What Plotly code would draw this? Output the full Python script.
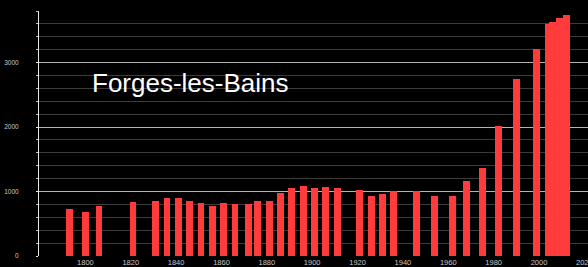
import plotly.graph_objects as go

years = [1793, 1800, 1806, 1821, 1831, 1836, 1841, 1846, 1851, 1856, 1861, 1866,
         1872, 1876, 1881, 1886, 1891, 1896, 1901, 1906, 1911, 1921, 1926, 1931,
         1936, 1946, 1954, 1962, 1968, 1975, 1982, 1990, 1999, 2004, 2006, 2009, 2012]
population = [734, 683, 777, 833, 859, 895, 906, 855, 829, 782, 829, 804,
              804, 855, 855, 975, 1053, 1093, 1053, 1073, 1058, 1026, 938, 959,
              1011, 1011, 933, 933, 1171, 1369, 2011, 2753, 3215, 3597, 3623, 3685, 3732]
title_text = "Forges-les-Bains"
x_ticks = [1800, 1820, 1840, 1860, 1880, 1900, 1920, 1940, 1960, 1980, 2000, 2020]
y_ticks = [0, 1000, 2000, 3000]

fig = go.Figure()
fig.add_trace(go.Bar(
    x=years, y=population, width=3,
    marker=dict(color="#ff3b3b", line=dict(width=0)),
    hoverinfo="x+y",
))

fig.update_layout(
    width=588, height=267,
    margin=dict(l=39, r=0, t=11, b=11, pad=0, autoexpand=False),
    paper_bgcolor="black", plot_bgcolor="black",
    showlegend=False,
    bargap=0,
    xaxis=dict(
        range=[1779.55, 2021.6],
        tickmode="array", tickvals=x_ticks,
        ticktext=[str(t) for t in x_ticks],
        showgrid=False, zeroline=False, showline=False,
        ticks="", ticklabeloverflow="allow", automargin=False,
        tickfont=dict(family="Liberation Sans, Arial, sans-serif", size=7.5, color="#c8c8c8"),
        fixedrange=True,
    ),
    yaxis=dict(
        range=[0, 3800],
        tickmode="array", tickvals=y_ticks,
        ticktext=[str(t) for t in y_ticks],
        showgrid=True, gridcolor="#b4b4b4", gridwidth=1,
        zeroline=False, automargin=False,
        showline=True, linecolor="#e6e6e6", linewidth=1,
        ticks="outside", ticklen=2, tickcolor="#e6e6e6",
        ticklabelstandoff=16,
        minor=dict(dtick=200, showgrid=True, gridcolor="#3c3c3c", gridwidth=1,
                   ticks="outside", ticklen=2, tickcolor="#bbbbbb"),
        tickfont=dict(family="Liberation Sans, Arial, sans-serif", size=6.5, color="#c8c8c8"),
        fixedrange=True,
    ),
    annotations=[dict(
        text=title_text, xref="paper", yref="paper",
        x=0.093, y=0.705, xanchor="left", yanchor="middle",
        showarrow=False,
        font=dict(family="Liberation Sans, Arial, sans-serif", size=26, color="white"),
    )],
)

fig.write_html(
    "out.html",
    config={"displayModeBar": False},
    post_script="document.body.style.margin='0';document.body.style.overflow='hidden';",
)
